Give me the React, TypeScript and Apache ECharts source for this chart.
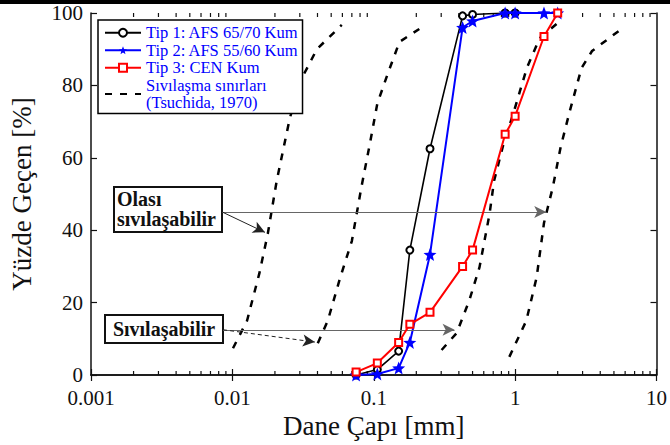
import React, { useEffect, useRef } from "react";
import * as echarts from "echarts";

const FONT = '"Liberation Serif", "Times New Roman", serif';

// Sieve sizes (mm) and percent passing
const TIP1_D = [0.075, 0.106, 0.15, 0.18, 0.25, 0.425, 0.5, 0.85, 1.0];
const TIP1_P = [0, 1.5, 6.6, 34.5, 62.5, 99.2, 99.6, 100, 100];

const TIP2_D = [0.075, 0.106, 0.15, 0.18, 0.25, 0.425, 0.5, 0.85, 1.0, 1.6, 2.0];
const TIP2_P = [0, 0.3, 1.9, 9, 33.3, 96, 97.8, 100, 100, 100, 100];

const TIP3_D = [0.075, 0.106, 0.15, 0.18, 0.25, 0.425, 0.5, 0.85, 1.0, 1.6, 2.0];
const TIP3_P = [0.8, 3.3, 9, 14, 17.3, 30, 34.5, 66.5, 71.5, 93.5, 100];

// Tsuchida (1970) boundaries: [diameter, percent]
const BOUND_1 = [[0.0101, 7.4], [0.0127, 15], [0.0155, 28], [0.0178, 39], [0.0206, 53.7], [0.0255, 71], [0.031, 82], [0.0396, 90], [0.0594, 96.7]];
const BOUND_2 = [[0.0402, 8.8], [0.0473, 15], [0.058, 27], [0.07, 37], [0.0817, 51.8], [0.094, 64], [0.106, 75], [0.125, 83], [0.152, 92], [0.21, 95.6]];
const BOUND_3 = [[0.302, 6.9], [0.386, 11.6], [0.475, 20.7], [0.56, 29.8], [0.66, 44.6], [0.71, 53.7], [0.83, 64], [0.96, 71.6], [1.21, 84.8], [1.49, 93], [1.97, 97]];
const BOUND_4 = [[0.91, 5], [1.2, 15], [1.42, 27], [1.6, 42], [1.85, 52], [2.1, 63], [2.44, 73], [2.95, 84.8], [3.5, 89.5], [5.65, 95.6]];

const X_TICK_LABELS = ["0.001", "0.01", "0.1", "1", "10"];
const MINOR_TICKS = [
  0.002, 0.003, 0.004, 0.005, 0.006, 0.007, 0.008, 0.009,
  0.02, 0.03, 0.04, 0.05, 0.06, 0.07, 0.08, 0.09,
  0.2, 0.3, 0.4, 0.5, 0.6, 0.7, 0.8, 0.9,
  2, 3, 4, 5, 6, 7, 8, 9,
];

const NAME_1 = "Tip 1: AFS 65/70 Kum";
const NAME_2 = "Tip 2: AFS 55/60 Kum";
const NAME_3 = "Tip 3: CEN Kum";
const NAME_B = "Sıvılaşma sınırları\n(Tsuchida, 1970)";

// annotation arrows (data coordinates)
const ARROW_POSSIBLE_H = [[0.0085, 45], [1.66, 45]];
const ARROW_POSSIBLE_D = [[0.0085, 45], [0.017, 39.4]];
const ARROW_LIQ_H = [[0.0086, 12.5], [0.373, 12.5]];
const ARROW_LIQ_D = [[0.0086, 12.5], [0.0383, 9.1]];

const STAR = "path://M0,-10 L2.6,-3.4 L9.5,-3.1 L4.1,1.3 L5.9,8.1 L0,4.2 L-5.9,8.1 L-4.1,1.3 L-9.5,-3.1 L-2.6,-3.4 Z";

const zip = (a: number[], b: number[]) => a.map((v, i) => [v, b[i]]);

export default function App() {
  const ref = useRef<HTMLDivElement>(null);
  useEffect(() => {
    if (!ref.current) return;
    const chart = echarts.init(ref.current, null, { renderer: "svg" });
    const boundStyle = { color: "#000", width: 2.5, type: [7, 8] as any };
    const xAxisBase = {
      type: "log",
      logBase: 10,
      min: 0.001,
      max: 10,
      axisLine: { show: true, lineStyle: { color: "#111", width: 1.5 } },
      axisTick: { show: true, inside: true, length: 6, lineStyle: { color: "#111", width: 1.2 } },
      splitLine: { show: false },
      minorTick: { show: false },
    };
    const yAxisBase = {
      type: "value",
      min: 0,
      max: 100,
      interval: 20,
      axisLine: { show: true, lineStyle: { color: "#111", width: 1.5 } },
      axisTick: { show: true, inside: true, length: 6, lineStyle: { color: "#111", width: 1.2 } },
      splitLine: { show: false },
    };
    const option: any = {
      animation: false,
      backgroundColor: "#fff",
      grid: { left: 91, right: 13, top: 13, bottom: 70, containLabel: false },
      legend: {
        data: [NAME_1, NAME_2, NAME_3, { name: NAME_B, itemStyle: { opacity: 0 } }],
        orient: "vertical",
        left: 98,
        top: 20,
        itemGap: 0,
        itemWidth: 36,
        itemHeight: 10,
        padding: [4, 4, 2, 6],
        borderColor: "#000",
        borderWidth: 1.5,
        backgroundColor: "#fff",
        textStyle: { fontFamily: FONT, fontSize: 16.5, color: "#0000ff", lineHeight: 17.5 },
        selectedMode: false,
        z: 10,
      },
      xAxis: [
        {
          ...xAxisBase,
          position: "bottom",
          name: "Dane Çapı [mm]",
          nameLocation: "middle",
          nameGap: 36,
          nameTextStyle: { fontFamily: FONT, fontSize: 27, color: "#111" },
          axisLabel: {
            show: true,
            margin: 12,
            fontFamily: FONT,
            fontSize: 21,
            color: "#111",
            formatter: (v: number) => X_TICK_LABELS[Math.round(Math.log10(v)) + 3] ?? "",
          },
        },
        { ...xAxisBase, position: "top", axisLabel: { show: false } },
      ],
      yAxis: [
        {
          ...yAxisBase,
          position: "left",
          name: "Yüzde Geçen [%]",
          nameLocation: "middle",
          nameGap: 56,
          nameTextStyle: { fontFamily: FONT, fontSize: 27, color: "#111" },
          axisLabel: { show: true, margin: 8, fontFamily: FONT, fontSize: 21, color: "#111" },
        },
        { ...yAxisBase, position: "right", axisLabel: { show: false } },
      ],
      series: [
        ...[BOUND_1, BOUND_2, BOUND_3, BOUND_4].map((b) => ({
          name: NAME_B,
          type: "line",
          data: b,
          symbol: "none",
          lineStyle: boundStyle,
          itemStyle: { color: "#000" },
          z: 2,
        })),
        {
          name: NAME_1,
          type: "line",
          data: zip(TIP1_D, TIP1_P),
          symbol: "emptyCircle",
          symbolSize: 7,
          lineStyle: { color: "#000", width: 1.6 },
          itemStyle: { color: "#000", borderColor: "#000", borderWidth: 1.4 },
          z: 3,
        },
        {
          name: NAME_2,
          type: "line",
          data: zip(TIP2_D, TIP2_P),
          symbol: STAR,
          symbolSize: 13,
          lineStyle: { color: "#0000ff", width: 2 },
          itemStyle: { color: "#0000ff" },
          z: 4,
        },
        {
          name: NAME_3,
          type: "line",
          data: zip(TIP3_D, TIP3_P),
          symbol: "emptyRect",
          symbolSize: 7,
          lineStyle: { color: "#ff0000", width: 2 },
          itemStyle: { color: "#ff0000", borderColor: "#ff0000", borderWidth: 1.4 },
          z: 5,
        },
        {
          name: "minorTicks",
          type: "custom",
          silent: true,
          data: MINOR_TICKS.map((v) => [v, 0]),
          renderItem: (params: any, api: any) => {
            const pb = api.coord([api.value(0), 0]);
            const pt = api.coord([api.value(0), 100]);
            const st = { stroke: "#111", lineWidth: 1.2 };
            return {
              type: "group",
              children: [
                { type: "line", shape: { x1: pb[0], y1: pb[1], x2: pb[0], y2: pb[1] - 4 }, style: st },
                { type: "line", shape: { x1: pt[0], y1: pt[1], x2: pt[0], y2: pt[1] + 4 }, style: st },
              ],
            };
          },
          z: 1,
        },
        {
          name: "annotations",
          type: "line",
          data: [],
          markLine: {
            silent: true,
            symbol: ["none", "arrow"],
            symbolSize: [9, 12],
            label: { show: false },
            emphasis: { disabled: true },
            data: [
              [{ coord: ARROW_POSSIBLE_H[0], lineStyle: { color: "#666", width: 1, type: "solid" } }, { coord: ARROW_POSSIBLE_H[1] }],
              [{ coord: ARROW_POSSIBLE_D[0], lineStyle: { color: "#222", width: 1, type: "solid" } }, { coord: ARROW_POSSIBLE_D[1] }],
              [{ coord: ARROW_LIQ_H[0], lineStyle: { color: "#666", width: 1, type: "solid" } }, { coord: ARROW_LIQ_H[1] }],
              [{ coord: ARROW_LIQ_D[0], lineStyle: { color: "#222", width: 1, type: [4, 3] } }, { coord: ARROW_LIQ_D[1] }],
            ],
          },
          z: 6,
        },
      ],
      graphic: [
        { type: "rect", left: 0, top: 0, shape: { width: 670, height: 4 }, style: { fill: "#000" }, z: 100 },
        {
          type: "group",
          z: 100,
          children: [
            { type: "rect", shape: { x: 114, y: 187, width: 108, height: 45 }, style: { fill: "#fff", stroke: "#111", lineWidth: 2 } },
            {
              type: "text",
              x: 117,
              y: 189,
              style: { text: "Olası\nsıvılaşabilir", font: `bold 20px ${FONT}`, fill: "#111", lineHeight: 20, verticalAlign: "top", align: "left" },
            },
            { type: "rect", shape: { x: 105, y: 315, width: 118, height: 28 }, style: { fill: "#fff", stroke: "#111", lineWidth: 2 } },
            {
              type: "text",
              x: 164,
              y: 329,
              style: { text: "Sıvılaşabilir", font: `bold 20px ${FONT}`, fill: "#111", verticalAlign: "middle", align: "center" },
            },
          ],
        },
      ],
    };
    chart.setOption(option);
    return () => chart.dispose();
  }, []);
  return <div ref={ref} style={{ position: "fixed", left: 0, top: 0, width: 670, height: 445, background: "#fff" }} />;
}
